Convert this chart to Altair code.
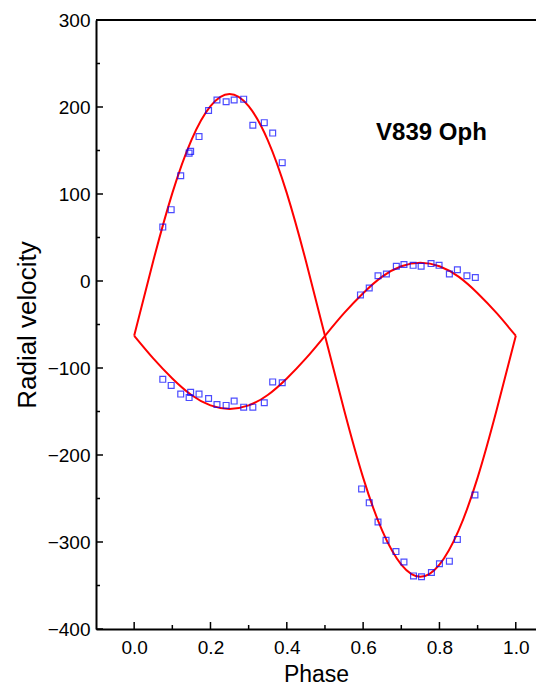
import altair as alt
import pandas as pd

phase_a = [0.075, 0.097, 0.122, 0.144, 0.148, 0.170, 0.195, 0.217, 0.241, 0.262, 0.287, 0.311, 0.341, 0.363, 0.388]
rv1_a = [62, 82, 121, 147, 149, 166, 196, 208, 206, 208, 209, 179, 182, 170, 136]
rv2_a = [-113, -120, -130, -134, -128, -130, -135, -142, -143, -138, -145, -145, -140, -116, -117]

phase_b1 = [0.596, 0.616, 0.639, 0.660, 0.686, 0.707, 0.732, 0.753, 0.779, 0.800, 0.826, 0.847, 0.893]
rv1_b = [-239, -255, -277, -298, -311, -323, -339, -340, -335, -325, -322, -297, -246]
phase_b2 = [0.593, 0.616, 0.639, 0.661, 0.687, 0.707, 0.731, 0.752, 0.778, 0.799, 0.826, 0.847, 0.872, 0.894]
rv2_b = [-16, -8, 6, 8, 17, 19, 18, 17, 20, 18, 8, 13, 6, 4]

# ---- fitted curves ----
curve_phase = [0.0, 0.05, 0.10, 0.15, 0.20, 0.25, 0.30, 0.35, 0.40, 0.45, 0.50,
               0.55, 0.60, 0.65, 0.70, 0.75, 0.80, 0.85, 0.90, 0.95, 1.0]
curve_rv1 = [-63, 23, 101, 162, 201, 215, 201, 162, 101, 23, -63,
             -148, -226, -287, -326, -340, -326, -287, -226, -148, -63]
curve_rv2 = [-63, -89, -112, -131, -143, -147, -143, -131, -112, -89, -63,
             -37, -14, 5, 17, 21, 17, 5, -14, -37, -63]

# ---- axis ticks ----
x_major = [0.0, 0.2, 0.4, 0.6, 0.8, 1.0]
x_minor = [0.1, 0.3, 0.5, 0.7, 0.9]
y_major = [-400, -300, -200, -100, 0, 100, 200, 300]
y_minor = [-350, -250, -150, -50, 50, 150, 250]

label_text = ["V839 Oph"]
label_phase = [0.634]
label_rv = [162]

W, H = 440, 609
FONT = "Liberation Sans"

pts = pd.DataFrame({
    "phase": phase_a + phase_a + phase_b1 + phase_b2,
    "rv": rv1_a + rv2_a + rv1_b + rv2_b,
})
curves = pd.DataFrame({
    "phase": curve_phase + curve_phase,
    "rv": curve_rv1 + curve_rv2,
    "comp": ["primary"] * len(curve_phase) + ["secondary"] * len(curve_phase),
})

xscale = alt.Scale(domain=[-0.1, 1.053], nice=False, zero=False)
yscale = alt.Scale(domain=[-400, 300], nice=False, zero=False)

lines = alt.Chart(curves).mark_line(color="#ff0000", strokeWidth=2, interpolate="natural").encode(
    x=alt.X("phase:Q", scale=xscale,
            axis=alt.Axis(title="Phase", values=x_major, format=".1f", labelPadding=9,
                          titleFontSize=23, titleBaseline="alphabetic", titleY=52)),
    y=alt.Y("rv:Q", scale=yscale,
            axis=alt.Axis(title="Radial velocity", values=y_major, labelPadding=6,
                          titleFontSize=26, titleBaseline="alphabetic", titleX=-61)),
    detail="comp:N",
)

points = alt.Chart(pts).mark_point(shape="square", size=34, filled=False,
                                   color="#0000ff", strokeWidth=1.2).encode(
    x=alt.X("phase:Q", scale=xscale),
    y=alt.Y("rv:Q", scale=yscale),
)

ymaj = alt.Chart(pd.DataFrame({"rv": y_major})).mark_rule(color="black", strokeWidth=1.5).encode(
    y=alt.Y("rv:Q", scale=yscale), x=alt.value(0), x2=alt.value(7))
ymin = alt.Chart(pd.DataFrame({"rv": y_minor})).mark_rule(color="black", strokeWidth=1.5).encode(
    y=alt.Y("rv:Q", scale=yscale), x=alt.value(0), x2=alt.value(4))
xmaj = alt.Chart(pd.DataFrame({"phase": x_major})).mark_rule(color="black", strokeWidth=1.5).encode(
    x=alt.X("phase:Q", scale=xscale), y=alt.value(H), y2=alt.value(H - 7))
xmin = alt.Chart(pd.DataFrame({"phase": x_minor})).mark_rule(color="black", strokeWidth=1.5).encode(
    x=alt.X("phase:Q", scale=xscale), y=alt.value(H), y2=alt.value(H - 4))

top = alt.Chart(pd.DataFrame({"a": [0]})).mark_rule(color="black", strokeWidth=2).encode(
    x=alt.value(0), x2=alt.value(W), y=alt.value(0))

label = alt.Chart(pd.DataFrame({"phase": label_phase, "rv": label_rv, "t": label_text})).mark_text(
    align="left", baseline="alphabetic", font=FONT, fontSize=24, fontWeight="bold", color="black"
).encode(
    x=alt.X("phase:Q", scale=xscale), y=alt.Y("rv:Q", scale=yscale), text="t:N")

chart = alt.layer(lines, points, ymaj, ymin, xmaj, xmin, top, label).properties(
    width=W, height=H,
    autosize=alt.AutoSizeParams(type="none"),
    padding={"left": 88, "top": 12, "right": 0, "bottom": 57},
).configure_view(stroke=None).configure_axis(
    domainColor="black", domainWidth=2, grid=False, ticks=False, tickSize=0,
    labelFont=FONT, labelFontSize=19, labelColor="black",
    titleFont=FONT, titleFontWeight="normal", titleColor="black",
)

chart.save("out.html", embed_options={"renderer": "svg", "actions": False})
